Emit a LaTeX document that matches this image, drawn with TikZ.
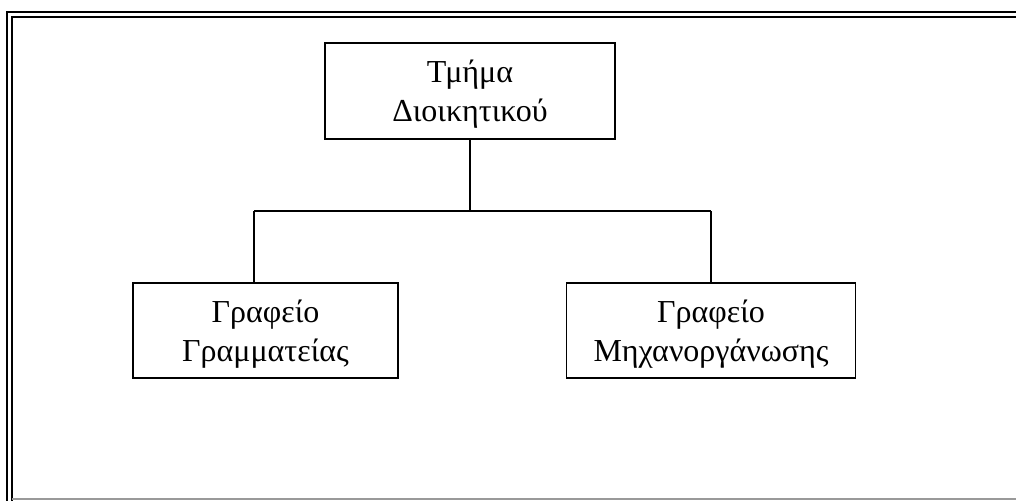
\documentclass[tikz,border=0pt]{standalone}
\usepackage{fontspec}
\setmainfont{Liberation Serif}
\begin{document}
\begin{tikzpicture}[x=0.75pt,y=-0.75pt,
  orgbox/.style={draw=black, line width=1.4pt, rectangle, inner sep=0pt, align=center,
    font=\fontsize{24}{29.5}\selectfont, text depth=0pt},
  link/.style={draw=black, line width=1.4pt}]
\useasboundingbox (0,0) rectangle (1016,500);
\clip (0,0) rectangle (1016,500);
% frame (double line, cropped at right and bottom)
\draw[line width=1.8pt] (7.2,530) -- (7.2,12) -- (1040,12);
\draw[line width=1.6pt] (12.2,530) -- (12.2,17.2) -- (1040,17.2);
\draw[line width=0.9pt, black!40] (12,499) -- (1040,499);
% boxes
\node[orgbox, minimum width=217.5pt, minimum height=72pt] (top) at (470,91) {Τμήμα\\Διοικητικού};
\node[orgbox, minimum width=198.75pt, minimum height=71.25pt] (left) at (265.5,330.5) {Γραφείο\\Γραμματείας};
\node[orgbox, minimum width=216.75pt, minimum height=71.25pt] (right) at (711,330.5) {Γραφείο\\Μηχανοργάνωσης};
% connectors
\coordinate (lc) at (254,211);
\coordinate (rc) at (711,211);
\draw[link] (top.south) -- (top.south |- lc);
\draw[link] (lc) -- (rc);
\draw[link] (lc) -- (lc |- left.north);
\draw[link] (rc) -- (right.north);
\end{tikzpicture}
\end{document}
